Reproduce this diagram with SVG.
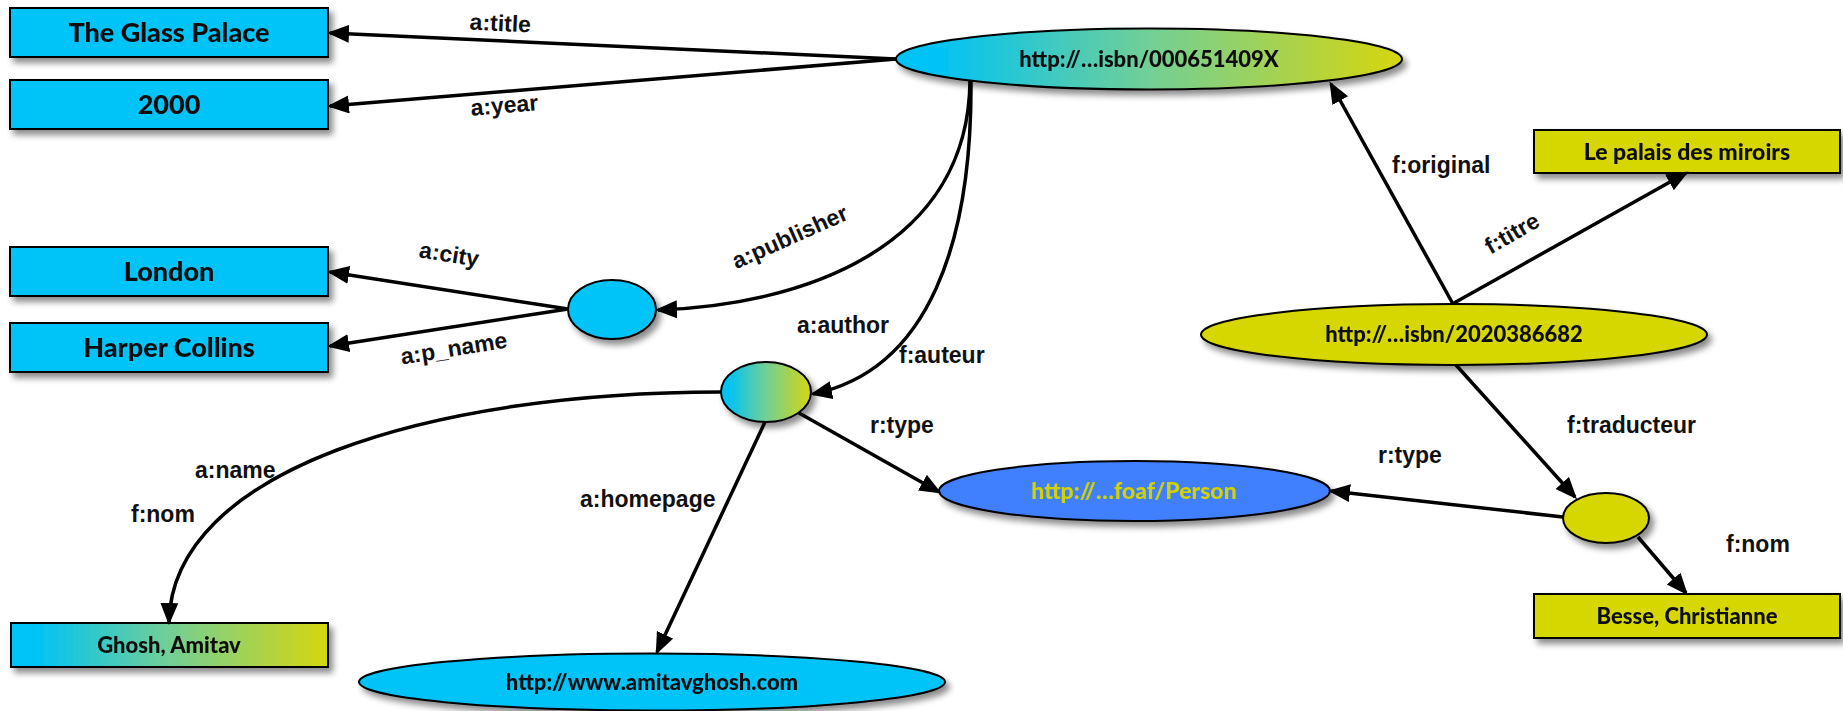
<svg xmlns="http://www.w3.org/2000/svg" width="1843" height="711" viewBox="0 0 1843 711">
<style>
  .box{stroke:#000;stroke-width:2}
  .cy{fill:#00C3F7}
  .ye{fill:#D6D600}
  .bl{fill:#4080FF}
  .gr{fill:url(#g)}
  .nt{font-family:Lato,"Open Sans",sans-serif;font-weight:900;fill:#111;text-anchor:middle}
  .big{font-size:27px}
  .sm{font-size:22px}
  .el{font-family:"Liberation Sans",Arial,sans-serif;font-weight:bold;font-size:23px;fill:#111}
  .mid{text-anchor:middle}
  .ln{fill:none;stroke:#000;stroke-width:3.5;marker-end:url(#ar)}
  .shadow{filter:url(#sh)}
</style>
<defs>
  <linearGradient id="g" x1="0" y1="0" x2="1" y2="0">
    <stop offset="0.08" stop-color="#00C3F5"/>
    <stop offset="0.5" stop-color="#72CF96"/>
    <stop offset="1" stop-color="#D6D60E"/>
  </linearGradient>
  <filter id="sh" x="-20%" y="-30%" width="140%" height="180%">
    <feDropShadow dx="4" dy="5" stdDeviation="3" flood-color="#000" flood-opacity="0.45"/>
  </filter>
  <marker id="ar" markerUnits="userSpaceOnUse" markerWidth="24" markerHeight="20" refX="19" refY="9" orient="auto">
    <path d="M0,0 L22,9 L0,18 z" fill="#000"/>
  </marker>
</defs>

<g id="n-glass" class="shadow"><rect class="box cy" x="10" y="8" width="318" height="49"/><text class="nt big" x="169" y="42">The Glass Palace</text></g>
<g id="n-2000" class="shadow"><rect class="box cy" x="10" y="80" width="318" height="49"/><text class="nt big" x="169" y="114">2000</text></g>
<g id="n-london" class="shadow"><rect class="box cy" x="10" y="247" width="318" height="49"/><text class="nt big" x="169" y="281">London</text></g>
<g id="n-harper" class="shadow"><rect class="box cy" x="10" y="323" width="318" height="49"/><text class="nt big" x="169" y="357">Harper Collins</text></g>
<g id="n-ghosh" class="shadow"><rect class="box gr" x="11" y="623" width="317" height="44"/><text class="nt sm" x="169" y="653">Ghosh, Amitav</text></g>
<g id="n-isbn1" class="shadow"><ellipse class="box gr" cx="1149" cy="59" rx="253" ry="30.5"/><text class="nt sm" x="1149" y="67">http://…isbn/000651409X</text></g>
<g id="n-isbn2" class="shadow"><ellipse class="box ye" cx="1454" cy="334.5" rx="253" ry="30.5"/><text class="nt sm" x="1454" y="342">http://…isbn/2020386682</text></g>
<g id="n-palais" class="shadow"><rect class="box ye" x="1534" y="130" width="306" height="43"/><text class="nt" style="font-size:23px" x="1687" y="160">Le palais des miroirs</text></g>
<g id="n-besse" class="shadow"><rect class="box ye" x="1534" y="594" width="306" height="44"/><text class="nt sm" x="1687" y="624">Besse, Christianne</text></g>
<g id="n-publisher" class="shadow"><ellipse class="box cy" cx="612" cy="309.5" rx="44" ry="29.5"/></g>
<g id="n-author" class="shadow"><ellipse class="box gr" cx="766" cy="392" rx="45" ry="30"/></g>
<g id="n-translator" class="shadow"><ellipse class="box ye" cx="1606" cy="518" rx="43" ry="25"/></g>
<g id="n-foaf" class="shadow"><ellipse class="box bl" cx="1134.5" cy="491" rx="195.5" ry="30"/><text class="nt" style="font-size:23px;fill:#D2D200" x="1134" y="499">http://…foaf/Person</text></g>
<g id="n-home" class="shadow"><ellipse class="box cy" cx="652" cy="682" rx="293" ry="28.5"/><text class="nt sm" x="652" y="690">http://www.amitavghosh.com</text></g>

<g id="connectors">
  <path class="ln" d="M896,59 L330,33"/>
  <path class="ln" d="M896,59 L330,106"/>
  <path class="ln" d="M568,309 L330,272"/>
  <path class="ln" d="M568,309 L330,346"/>
  <path class="ln" d="M970,81 C968,250 800,305 658,310"/>
  <path class="ln" d="M971,81 C972,240 930,370 813,394"/>
  <path class="ln" d="M721,392 C430,392 172,470 169,622"/>
  <path class="ln" d="M765,422 L657,652"/>
  <path class="ln" d="M799,413 L939,492"/>
  <path class="ln" d="M1453,304 L1331,84"/>
  <path class="ln" d="M1454,303 L1686,173"/>
  <path class="ln" d="M1456,365 L1575,497"/>
  <path class="ln" d="M1563,517 L1331,491"/>
  <path class="ln" d="M1638,537 L1686,593"/>
</g>

<g id="labels">
  <text class="el mid" transform="translate(500,31) rotate(2.7)">a:title</text>
  <text class="el mid" transform="translate(505,113) rotate(-4.6)">a:year</text>
  <text class="el mid" transform="translate(448,262) rotate(9)">a:city</text>
  <text class="el mid" transform="translate(455,356) rotate(-9)">a:p_name</text>
  <text class="el mid" transform="translate(793,244) rotate(-24)">a:publisher</text>
  <text class="el" x="797" y="333">a:author</text>
  <text class="el" x="899" y="363">f:auteur</text>
  <text class="el" x="870" y="433">r:type</text>
  <text class="el" x="580" y="507">a:homepage</text>
  <text class="el" x="195" y="478">a:name</text>
  <text class="el" x="131" y="522">f:nom</text>
  <text class="el" x="1392" y="173">f:original</text>
  <text class="el mid" transform="translate(1516,240) rotate(-30)">f:titre</text>
  <text class="el" x="1567" y="433">f:traducteur</text>
  <text class="el" x="1378" y="463">r:type</text>
  <text class="el" x="1726" y="552">f:nom</text>
</g>
</svg>
